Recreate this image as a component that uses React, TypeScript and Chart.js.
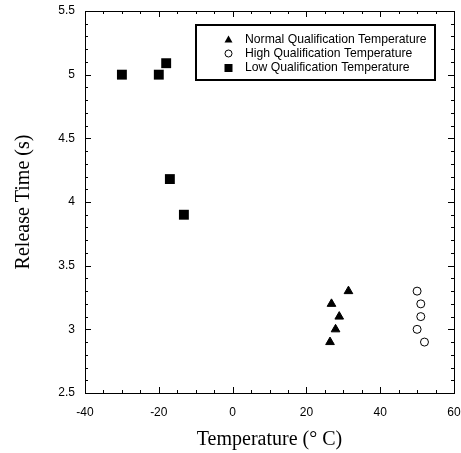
import React, { useEffect, useRef } from "react";
import { Chart, registerables } from "chart.js";

Chart.register(...registerables);

// ---- data ----
const normalTemp = [31.4, 26.8, 28.9, 27.9, 26.4];
const normalTime = [3.3, 3.2, 3.1, 3.0, 2.9];
const highTemp = [50, 51, 51, 50, 52];
const highTime = [3.3, 3.2, 3.1, 3.0, 2.9];
const lowTemp = [-30, -20, -18, -17, -13.2];
const lowTime = [5.0, 5.0, 5.09, 4.18, 3.9];
const seriesNames = [
  "Normal Qualification Temperature",
  "High Qualification Temperature",
  "Low Qualification Temperature",
];
const xRange = [-40, 60];
const yRange = [2.5, 5.5];
const xTitle = "Temperature (° C)";
const yTitle = "Release Time (s)";

const pts = (xs: number[], ys: number[]) => xs.map((x, i) => ({ x, y: ys[i] }));

const tickFont = { family: "'Liberation Sans', Arial, sans-serif", size: 12 };
const titleFont = { family: "'Liberation Serif', 'Times New Roman', serif", size: 20 };

const ticksPlugin = {
  id: "inwardTicks",
  afterDraw(chart: any) {
    const { ctx, chartArea } = chart;
    const xs = chart.scales.x;
    const ys = chart.scales.y;
    ctx.save();
    ctx.strokeStyle = "#000";
    ctx.lineWidth = 1;
    ctx.beginPath();
    for (let v = xRange[0]; v <= xRange[1] + 1e-9; v += 5) {
      const px = Math.round(xs.getPixelForValue(v)) + 0.5;
      const len = Math.abs(v % 20) < 1e-9 ? 6 : 3;
      ctx.moveTo(px, chartArea.bottom);
      ctx.lineTo(px, chartArea.bottom - len);
      ctx.moveTo(px, chartArea.top);
      ctx.lineTo(px, chartArea.top + len);
    }
    for (let i = 0; i <= 30; i++) {
      const v = yRange[0] + i * 0.1;
      const py = Math.round(ys.getPixelForValue(v)) + 0.5;
      const len = i % 5 === 0 ? 6 : 3;
      ctx.moveTo(chartArea.left, py);
      ctx.lineTo(chartArea.left + len, py);
      ctx.moveTo(chartArea.right, py);
      ctx.lineTo(chartArea.right - len, py);
    }
    ctx.stroke();
    ctx.strokeRect(
      Math.round(chartArea.left) + 0.5,
      Math.round(chartArea.top) + 0.5,
      Math.round(chartArea.right - chartArea.left),
      Math.round(chartArea.bottom - chartArea.top)
    );
    ctx.restore();
  },
};

const legendPlugin = {
  id: "insideLegend",
  afterDraw(chart: any) {
    const { ctx } = chart;
    const bx = 196, by = 25, bw = 239, bh = 55;
    ctx.save();
    ctx.fillStyle = "#fff";
    ctx.fillRect(bx, by, bw, bh);
    ctx.strokeStyle = "#000";
    ctx.lineWidth = 2;
    ctx.strokeRect(bx, by, bw, bh);
    const rows = [39.5, 53.5, 68];
    const mx = 228.5;
    ctx.fillStyle = "#000";
    ctx.lineWidth = 1;
    // triangle
    ctx.beginPath();
    ctx.moveTo(mx, rows[0] - 4);
    ctx.lineTo(mx + 4, rows[0] + 3);
    ctx.lineTo(mx - 4, rows[0] + 3);
    ctx.closePath();
    ctx.fill();
    // circle
    ctx.beginPath();
    ctx.arc(mx, rows[1], 3.5, 0, Math.PI * 2);
    ctx.stroke();
    // square
    ctx.fillRect(mx - 4, rows[2] - 4, 8, 8);
    ctx.font = "12.2px 'Liberation Sans', Arial, sans-serif";
    ctx.textBaseline = "middle";
    ctx.textAlign = "left";
    seriesNames.forEach((n, i) => ctx.fillText(n, 245, rows[i]));
    ctx.restore();
  },
};

export default function App() {
  const ref = useRef<HTMLCanvasElement>(null);
  useEffect(() => {
    if (!ref.current) return;
    const chart = new Chart(ref.current, {
      type: "scatter",
      data: {
        datasets: [
          {
            label: seriesNames[0],
            data: pts(normalTemp, normalTime),
            pointStyle: "triangle",
            pointRadius: 5,
            backgroundColor: "#000",
            borderColor: "#000",
            borderWidth: 1,
          },
          {
            label: seriesNames[1],
            data: pts(highTemp, highTime),
            pointStyle: "circle",
            pointRadius: 4,
            backgroundColor: "#fff",
            borderColor: "#000",
            borderWidth: 1,
          },
          {
            label: seriesNames[2],
            data: pts(lowTemp, lowTime),
            pointStyle: "rect",
            pointRadius: 7,
            backgroundColor: "#000",
            borderColor: "#000",
            borderWidth: 0,
          },
        ],
      },
      options: {
        responsive: false,
        animation: false,
        layout: { padding: { top: 11, right: 6, left: 0, bottom: 0 } },
        plugins: { legend: { display: false }, tooltip: { enabled: false } },
        scales: {
          x: {
            type: "linear",
            min: xRange[0],
            max: xRange[1],
            grid: { display: false, drawTicks: false },
            border: { display: false },
            ticks: { stepSize: 20, color: "#000", font: tickFont, padding: 12, maxRotation: 0 },
            title: { display: true, text: xTitle, color: "#000", font: titleFont, padding: { top: 0, bottom: 1 } },
            afterFit: (s: any) => {
              s.height = 60;
              s.paddingLeft = 0;
              s.paddingRight = 0;
            },
          },
          y: {
            type: "linear",
            min: yRange[0],
            max: yRange[1],
            grid: { display: false, drawTicks: false },
            border: { display: false },
            ticks: {
              stepSize: 0.5,
              color: "#000",
              font: tickFont,
              padding: 10,
              callback: (v: any) => String(Math.round(Number(v) * 10) / 10),
            },
            title: { display: true, text: yTitle, color: "#000", font: titleFont, padding: { top: 12, bottom: 0 } },
            afterFit: (s: any) => {
              s.width = 85;
              s.paddingTop = 0;
              s.paddingBottom = 0;
            },
          },
        },
      },
      plugins: [ticksPlugin, legendPlugin],
    } as any);
    return () => chart.destroy();
  }, []);
  return (
    <div style={{ position: "absolute", left: 0, top: 0, width: 461, height: 453, background: "#fff" }}>
      <canvas ref={ref} width={461} height={453} style={{ display: "block", width: 461, height: 453 }} />
    </div>
  );
}
